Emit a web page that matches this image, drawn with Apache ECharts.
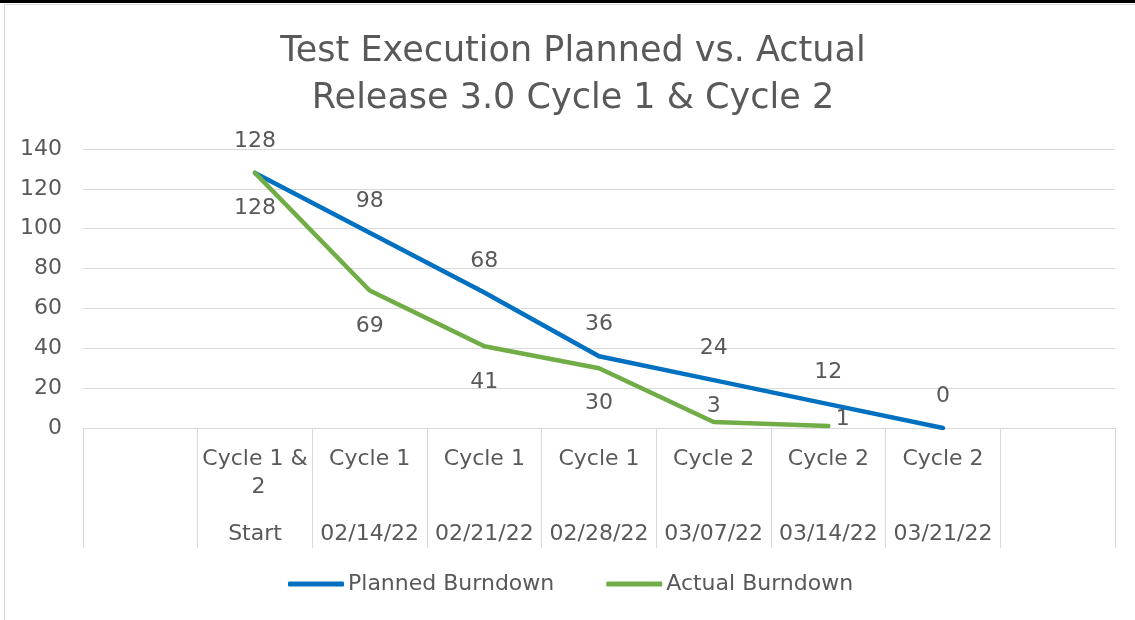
<!DOCTYPE html>
<html>
<head>
<meta charset="utf-8">
<script src="https://cdn.jsdelivr.net/npm/echarts@6/dist/echarts.min.js"></script>
<style>html,body{margin:0;padding:0;background:#fff}#c{width:1135px;height:620px}</style>
</head>
<body>
<div id="c"></div>
<script>
const cycleLabels = ['', 'Cycle 1 & 2', 'Cycle 1', 'Cycle 1', 'Cycle 1', 'Cycle 2', 'Cycle 2', 'Cycle 2', ''];
const dateLabels = ['', 'Start', '02/14/22', '02/21/22', '02/28/22', '03/07/22', '03/14/22', '03/21/22', ''];
const plannedBurndown = [null, 128, 98, 68, 36, 24, 12, 0, null];
const actualBurndown = [null, 128, 69, 41, 30, 3, 1, null, null];
const yTicks = { min: 0, max: 140, interval: 20 };

const FONT = 'DejaVu Sans';
const GREY = '#595959';
const LINE = '#D9D9D9';

// per-point label placement overrides for the actual series (styling only)
const actualLabelOverrides = {
  5: { position: 'top', distance: 4 },
  6: { position: 'right', distance: 7, offset: [0, -7] }
};

const chart = echarts.init(document.getElementById('c'), null, { renderer: 'canvas' });
chart.setOption({
  animation: false,
  backgroundColor: '#fff',
  graphic: [
    { type: 'rect', shape: { x: 0, y: 0, width: 1135, height: 3 }, style: { fill: '#000' }, silent: true },
    { type: 'rect', shape: { x: 4.5, y: 4.5, width: 1140, height: 640 }, style: { fill: 'none', stroke: LINE, lineWidth: 1 }, silent: true }
  ],
  title: {
    text: 'Test Execution Planned vs. Actual\nRelease 3.0 Cycle 1 & Cycle 2',
    left: 573,
    top: 28,
    padding: 0,
    textAlign: 'center',
    textStyle: { fontFamily: FONT, fontSize: 35, fontWeight: 'normal', color: GREY, lineHeight: 47 }
  },
  legend: {
    left: 288,
    top: 573,
    itemWidth: 56,
    itemHeight: 5,
    itemGap: 52,
    icon: 'roundRect',
    padding: 0,
    textStyle: { fontFamily: FONT, fontSize: 22, color: GREY, padding: [0, 0, 0, -1] },
    data: ['Planned Burndown', 'Actual Burndown']
  },
  grid: { left: 83, right: 20, top: 149, bottom: 192, containLabel: false },
  xAxis: [
    {
      type: 'category',
      data: cycleLabels,
      boundaryGap: true,
      position: 'bottom',
      axisLine: { show: true, lineStyle: { color: LINE, width: 1 } },
      axisTick: { show: true, interval: 0, length: 120, lineStyle: { color: LINE, width: 1 } },
      axisLabel: {
        interval: 0, margin: 17, fontFamily: FONT, fontSize: 22, color: GREY,
        lineHeight: 28, width: 108, overflow: 'break', verticalAlign: 'top'
      },
      splitLine: { show: false }
    },
    {
      type: 'category',
      data: dateLabels,
      boundaryGap: true,
      position: 'bottom',
      gridIndex: 0,
      axisLine: { show: false },
      axisTick: { show: false },
      axisLabel: { interval: 0, margin: 92, fontFamily: FONT, fontSize: 22, color: GREY, lineHeight: 28, verticalAlign: 'top' },
      splitLine: { show: false }
    }
  ],
  yAxis: {
    type: 'value',
    min: yTicks.min, max: yTicks.max, interval: yTicks.interval,
    axisLine: { show: false },
    axisTick: { show: false },
    axisLabel: { margin: 21, fontFamily: FONT, fontSize: 22, color: GREY },
    splitLine: { show: true, lineStyle: { color: LINE, width: 1 } }
  },
  series: [
    {
      name: 'Planned Burndown',
      type: 'line',
      xAxisIndex: 0,
      data: plannedBurndown,
      color: '#0070C0',
      symbol: 'circle', symbolSize: 1,
      lineStyle: { width: 4.5, color: '#0070C0', cap: 'round', join: 'round' },
      label: { show: true, position: 'top', distance: 20, fontFamily: FONT, fontSize: 22, color: GREY },
      emphasis: { disabled: true },
      z: 3
    },
    {
      name: 'Actual Burndown',
      type: 'line',
      xAxisIndex: 0,
      data: actualBurndown.map((v, i) => actualLabelOverrides[i]
        ? { value: v, label: actualLabelOverrides[i] } : v),
      color: '#70AD47',
      symbol: 'circle', symbolSize: 1,
      lineStyle: { width: 4.5, color: '#70AD47', cap: 'round', join: 'round' },
      label: { show: true, position: 'bottom', distance: 24, fontFamily: FONT, fontSize: 22, color: GREY },
      emphasis: { disabled: true },
      z: 4
    }
  ]
});
</script>
</body>
</html>
